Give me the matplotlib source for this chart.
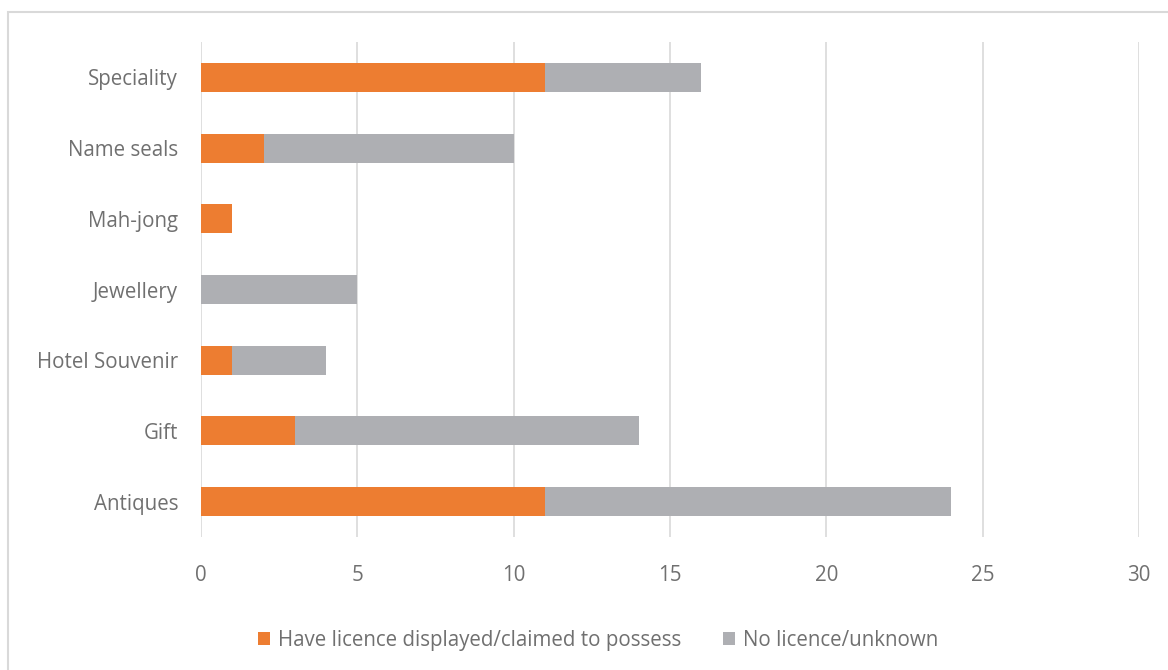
import matplotlib.pyplot as plt
from matplotlib.patches import Rectangle

categories = ['Antiques', 'Gift', 'Hotel Souvenir', 'Jewellery', 'Mah-jong', 'Name seals', 'Speciality']
licence = [11, 3, 1, 0, 1, 2, 11]
no_licence = [13, 11, 3, 5, 0, 8, 5]

plt.rcParams['font.family'] = ['Open Sans', 'DejaVu Sans']
text_color = '#707070'

fig = plt.figure(figsize=(11.68, 6.70), dpi=100)
ax = fig.add_axes([0.1721, 0.1985, 0.8031, 0.7388])

# border of the chart area (cropped at right and bottom)
fig.patches.append(Rectangle((8 / 1168, -0.1), 1.2, 1 - 12 / 670 + 0.1,
                             transform=fig.transFigure, fill=False,
                             edgecolor='#d9d9d9', linewidth=1.5))

ax.barh(categories, licence, height=0.41, color='#ED7D31',
        label='Have licence displayed/claimed to possess', zorder=3)
ax.barh(categories, no_licence, left=licence, height=0.41, color='#AEAFB3',
        label='No licence/unknown', zorder=3)

ax.set_xlim(0, 30)
ax.set_ylim(-0.5, len(categories) - 0.5)
ax.set_xticks(range(0, 31, 5))
ax.grid(axis='x', color='#d9d9d9', linewidth=1.2, zorder=0)
for s in ax.spines.values():
    s.set_visible(False)
ax.tick_params(length=0, labelsize=14.8, colors=text_color)
ax.tick_params(axis='x', pad=20)
ax.tick_params(axis='y', pad=16.5)

ax.legend(loc='center', bbox_to_anchor=(0.512, 0.044), bbox_transform=fig.transFigure,
          ncol=2, frameon=False, fontsize=14.8, labelcolor=text_color,
          handlelength=0.6, handleheight=0.6, handletextpad=0.4, columnspacing=2.0)

fig.savefig('out.png', dpi=100)
